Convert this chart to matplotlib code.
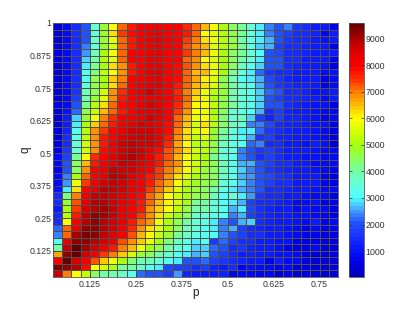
import numpy as np
import matplotlib
matplotlib.use("Agg")
import matplotlib.pyplot as plt
from matplotlib.colors import LinearSegmentedColormap

plt.rcParams['font.family'] = ['Liberation Sans', 'DejaVu Sans']

# grid edges, pcolor style: one more edge than cells
p_edges = [0.025 * i for i in range(1, 33)]
q_edges = [0.025 * i for i in range(1, 41)]

p_ticks = [0.125, 0.25, 0.375, 0.5, 0.625, 0.75]
p_labels = ['0.125', '0.25', '0.375', '0.5', '0.625', '0.75']
q_ticks = [0.125, 0.25, 0.375, 0.5, 0.625, 0.75, 0.875, 1]
q_labels = ['0.125', '0.25', '0.375', '0.5', '0.625', '0.75', '0.875', '1']
cbar_ticks = [1000, 2000, 3000, 4000, 5000, 6000, 7000, 8000, 9000]

# colours
cbar_values = [20, 500, 1000, 1500, 2000, 2500, 3000, 3500, 4000, 4500, 5000,
               6000, 6500, 7000, 7500, 8000, 8500, 9000, 9600]
cbar_colors = [(0, 0, .75), (0, 0, .9), (.03, .08, 1), (.1, .2, 1), (.12, .32, 1),
               (.27, .62, 1), (.3, 1, 1), (.4, 1, .85), (.45, 1, .65), (.55, 1, .35),
               (.65, 1, .05), (1, 1, 0), (1, .75, 0), (1, .5, 0), (1, .2, 0),
               (1, 0, 0), (.9, 0, 0), (.72, 0, 0), (.4, 0, 0)]

# counts in hundreds, top row (q near 1) first
counts = [
    [4, 9, 14, 20, 36, 47, 59, 72, 78, 81, 82, 82, 81, 81, 76, 72, 66, 60, 50, 44, 41, 35, 30, 24, 20, 23, 16, 15, 11, 11, 5],
    [4, 9, 14, 20, 36, 47, 62, 74, 79, 81, 83, 84, 81, 81, 77, 72, 60, 57, 52, 46, 42, 36, 30, 24, 20, 17, 15, 15, 13, 7, 12],
    [4, 9, 14, 20, 37, 48, 57, 71, 78, 81, 84, 85, 82, 80, 74, 70, 62, 58, 52, 46, 40, 34, 29, 26, 20, 16, 14, 14, 12, 10, 11],
    [4, 9, 14, 23, 36, 48, 55, 71, 78, 81, 83, 84, 82, 80, 73, 69, 66, 57, 52, 47, 41, 34, 28, 26, 17, 15, 14, 13, 11, 11, 6],
    [5, 8, 14, 25, 38, 50, 59, 72, 80, 82, 84, 84, 81, 80, 74, 70, 65, 58, 50, 44, 41, 36, 31, 21, 19, 15, 15, 13, 12, 12, 11],
    [5, 9, 14, 28, 40, 52, 57, 72, 80, 81, 84, 83, 81, 80, 72, 69, 60, 57, 50, 44, 40, 36, 30, 20, 21, 15, 15, 12, 11, 11, 7],
    [4, 9, 14, 30, 41, 51, 62, 69, 78, 81, 83, 84, 81, 79, 73, 68, 62, 58, 50, 44, 38, 33, 28, 20, 20, 15, 13, 11, 12, 10, 5],
    [4, 9, 14, 32, 43, 52, 59, 69, 78, 81, 85, 85, 81, 79, 72, 66, 66, 58, 50, 42, 36, 30, 22, 16, 15, 15, 12, 12, 11, 9, 10],
    [4, 8, 15, 33, 46, 50, 64, 70, 80, 82, 85, 85, 81, 79, 72, 67, 61, 56, 46, 38, 33, 30, 26, 19, 16, 13, 12, 12, 11, 6, 9],
    [4, 9, 15, 35, 46, 51, 63, 72, 80, 83, 85, 85, 82, 78, 72, 66, 62, 56, 46, 40, 36, 32, 26, 20, 16, 15, 13, 13, 11, 6, 9],
    [4, 9, 16, 38, 46, 55, 68, 76, 81, 84, 86, 84, 81, 76, 70, 64, 58, 52, 48, 40, 36, 33, 28, 22, 20, 15, 14, 13, 10, 10, 12],
    [4, 9, 18, 40, 48, 56, 68, 77, 80, 82, 84, 83, 81, 77, 71, 62, 58, 50, 46, 38, 36, 32, 28, 21, 17, 14, 14, 13, 11, 9, 11],
    [5, 9, 20, 42, 52, 62, 72, 79, 80, 83, 86, 84, 81, 76, 70, 60, 60, 54, 46, 41, 35, 32, 28, 20, 20, 14, 13, 12, 10, 10, 6],
    [4, 10, 22, 46, 53, 65, 72, 78, 81, 85, 85, 85, 81, 75, 68, 60, 58, 50, 44, 36, 34, 31, 26, 15, 18, 13, 12, 12, 10, 8, 8],
    [4, 11, 28, 48, 58, 70, 76, 80, 82, 84, 86, 84, 80, 72, 66, 58, 60, 52, 43, 36, 38, 28, 18, 13, 17, 13, 13, 11, 10, 7, 9],
    [4, 12, 30, 50, 64, 72, 77, 82, 85, 86, 85, 83, 79, 71, 64, 55, 62, 52, 44, 38, 36, 24, 24, 19, 14, 13, 13, 12, 10, 10, 6],
    [4, 13, 32, 52, 68, 75, 80, 84, 86, 87, 87, 84, 79, 70, 63, 56, 59, 48, 42, 36, 30, 30, 22, 16, 14, 13, 12, 11, 10, 9, 5],
    [4, 14, 34, 54, 68, 78, 80, 85, 87, 87, 87, 83, 78, 68, 62, 53, 56, 48, 40, 34, 31, 26, 16, 17, 13, 13, 11, 11, 10, 9, 4],
    [5, 15, 35, 55, 69, 78, 82, 86, 88, 87, 86, 83, 76, 67, 60, 52, 52, 46, 38, 34, 32, 22, 24, 14, 14, 12, 11, 10, 11, 10, 4],
    [5, 16, 35, 55, 69, 79, 82, 87, 88, 86, 83, 79, 73, 68, 62, 55, 52, 46, 35, 34, 24, 20, 16, 18, 14, 12, 11, 11, 10, 9, 8],
    [8, 18, 42, 60, 76, 81, 85, 88, 89, 86, 83, 78, 73, 65, 60, 54, 50, 42, 36, 33, 24, 20, 15, 17, 14, 12, 12, 10, 10, 9, 8],
    [8, 20, 44, 65, 77, 82, 85, 88, 87, 85, 82, 77, 72, 68, 60, 55, 50, 46, 38, 33, 27, 26, 21, 17, 15, 14, 12, 11, 9, 8, 9],
    [7, 21, 45, 68, 80, 84, 88, 87, 86, 83, 80, 75, 70, 65, 59, 53, 48, 44, 39, 32, 28, 24, 21, 16, 15, 13, 12, 11, 10, 9, 7],
    [8, 23, 50, 71, 81, 85, 89, 88, 85, 82, 78, 74, 69, 63, 57, 50, 47, 44, 37, 33, 27, 25, 21, 19, 16, 14, 12, 12, 11, 7, 6],
    [8, 25, 58, 75, 82, 87, 88, 86, 84, 81, 78, 72, 67, 60, 53, 49, 46, 44, 36, 33, 28, 23, 20, 18, 15, 14, 12, 11, 11, 7, 6],
    [10, 30, 62, 80, 85, 89, 88, 86, 84, 80, 75, 70, 64, 57, 51, 48, 45, 40, 34, 30, 27, 24, 20, 15, 15, 13, 12, 11, 10, 8, 8],
    [15, 43, 70, 82, 88, 88, 87, 85, 82, 79, 72, 67, 60, 55, 50, 46, 46, 38, 31, 36, 29, 25, 16, 14, 14, 12, 11, 10, 9, 8, 6],
    [15, 47, 73, 85, 89, 90, 87, 84, 81, 78, 72, 65, 61, 55, 50, 41, 40, 35, 31, 29, 27, 17, 15, 14, 13, 12, 9, 8, 10, 6, 7],
    [12, 50, 75, 87, 90, 91, 88, 84, 80, 77, 69, 64, 59, 53, 46, 40, 40, 36, 32, 26, 30, 19, 15, 13, 12, 11, 9, 10, 8, 8, 6],
    [14, 52, 77, 89, 92, 91, 88, 83, 80, 74, 69, 62, 54, 49, 44, 37, 36, 34, 31, 24, 26, 18, 14, 13, 12, 11, 10, 10, 8, 7, 5],
    [15, 60, 82, 89, 92, 90, 87, 83, 78, 72, 68, 58, 50, 46, 40, 36, 34, 30, 24, 21, 27, 28, 15, 13, 12, 12, 10, 8, 11, 7, 9],
    [22, 71, 83, 92, 93, 90, 86, 82, 76, 69, 62, 56, 50, 45, 39, 35, 31, 29, 23, 26, 17, 15, 13, 12, 11, 10, 8, 6, 9, 6, 7],
    [23, 72, 91, 94, 93, 88, 85, 81, 73, 66, 60, 53, 48, 41, 37, 34, 33, 31, 24, 20, 17, 15, 14, 12, 11, 10, 9, 7, 7, 5, 6],
    [33, 83, 93, 93, 90, 87, 83, 73, 69, 64, 58, 50, 43, 38, 34, 30, 32, 16, 22, 18, 14, 14, 12, 11, 10, 10, 5, 6, 6, 4, 4],
    [40, 88, 95, 91, 87, 82, 78, 70, 65, 58, 50, 46, 40, 36, 32, 28, 28, 22, 20, 14, 16, 13, 12, 11, 10, 6, 5, 6, 9, 4, 4],
    [67, 93, 95, 86, 82, 75, 70, 64, 55, 48, 45, 40, 37, 32, 30, 27, 28, 20, 18, 14, 12, 13, 12, 11, 10, 10, 9, 5, 4, 4, 5],
    [81, 95, 86, 82, 73, 64, 58, 51, 43, 39, 38, 35, 33, 30, 20, 21, 22, 18, 16, 15, 13, 12, 11, 5, 12, 9, 8, 4, 4, 4, 4],
    [94, 92, 89, 79, 60, 55, 50, 42, 40, 37, 32, 29, 19, 17, 18, 15, 18, 13, 12, 14, 7, 10, 9, 8, 7, 9, 4, 5, 4, 4, 4],
    [88, 70, 60, 53, 45, 40, 40, 37, 33, 22, 20, 20, 18, 25, 13, 12, 12, 12, 13, 7, 9, 9, 7, 8, 4, 7, 4, 5, 4, 4, 4],
]

z = np.array(counts[::-1]) * 100.0
vmin, vmax = cbar_values[0], cbar_values[-1]
anchors = [(v - vmin) / (vmax - vmin) for v in cbar_values]
cmap = LinearSegmentedColormap.from_list('bar', list(zip(anchors, cbar_colors)), N=64)

fig = plt.figure(figsize=(4.15, 3.12), dpi=100)
W, H = 415.0, 312.0
ax = fig.add_axes([53 / W, 1 - 277 / H, 285 / W, 254 / H])
mesh = ax.pcolormesh(p_edges, q_edges, z, cmap=cmap, vmin=vmin, vmax=vmax,
                     edgecolors='#505050', linewidth=0.5)
ax.set_xlim(0.025, 0.8)
ax.set_ylim(0.025, 1)
ax.set_xticks(p_ticks)
ax.set_xticklabels(p_labels)
ax.set_yticks(q_ticks)
ax.set_yticklabels(q_labels)
ax.tick_params(direction='in', length=2, width=0.5, labelsize=6.3, colors='#333333')
ax.tick_params(axis='x', pad=2)
ax.tick_params(axis='y', pad=1.2)
for s in ax.spines.values():
    s.set_linewidth(0.6)
    s.set_color('#555555')
ax.set_xlabel('p', fontsize=8.5, color='#222222')
ax.set_ylabel('q', fontsize=8.5, color='#222222')
ax.xaxis.set_label_coords(0.5, -0.04)
ax.yaxis.set_label_coords(-0.075, 0.5)

cax = fig.add_axes([349 / W, 1 - 277 / H, 14.5 / W, 254 / H])
cb = fig.colorbar(mesh, cax=cax)
cb.set_ticks(cbar_ticks)
cb.set_ticklabels([str(t) for t in cbar_ticks])
cax.tick_params(direction='in', length=2, width=0.5, labelsize=6.3, pad=1.5, left=True, right=True, colors='#333333')
cb.outline.set_linewidth(0.6)
cb.outline.set_edgecolor('#555555')

fig.savefig('out.png', dpi=100)
